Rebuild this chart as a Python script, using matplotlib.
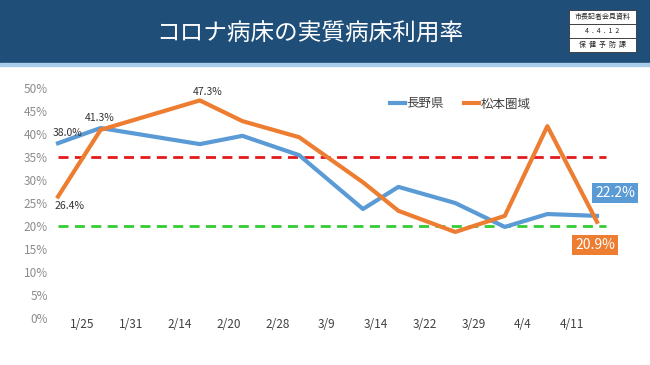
import matplotlib
matplotlib.use("Agg")
import matplotlib.pyplot as plt
from matplotlib.patches import Rectangle
import numpy as np
import pandas as pd

plt.rcParams['font.family'] = ['Noto Sans CJK JP', 'DejaVu Sans']

dates = ['1/25', '1/31', '2/14', '2/20', '2/28', '3/9', '3/14', '3/22', '3/29', '4/4', '4/11']
nagano = [38.0, 41.3, 37.8, 39.6, 35.4, 23.7, 28.5, 25.0, 19.8, 22.6, 22.2]
matsumoto = [26.4, 40.9, 47.3, 42.8, 39.3, 29.5, 23.3, 18.7, 22.2, 41.7, 20.9]
upper_line = 35
lower_line = 20
yticks = [0, 5, 10, 15, 20, 25, 30, 35, 40, 45, 50]

# date axis: days since first point
dt = pd.to_datetime(['2022/' + d for d in dates])
days = np.array((dt - dt[0]).days)

W, H = 650, 365
fig = plt.figure(figsize=(6.5, 3.65), dpi=100)

def fx(px):
    return px / W

def fy(py):
    return 1 - py / H

# header band
fig.patches.append(Rectangle((0, fy(63)), 1, 63 / H, transform=fig.transFigure,
                             color='#1f4e79', zorder=0))
fig.patches.append(Rectangle((0, fy(66)), 1, 3 / H, transform=fig.transFigure,
                             color='#a9cde8', zorder=0))
fig.text(fx(310), fy(34), 'コロナ病床の実質病床利用率', color='white', fontsize=17,
         ha='center', va='center')

# small stamp box
bx0, bx1, by0, rh = 569, 636, 10, 14
rows = ['市長記者会見資料', '4  .  4  .  1  2', '保  健  予  防  課']
for i, r in enumerate(rows):
    fig.patches.append(Rectangle((fx(bx0), fy(by0 + rh * (i + 1))), fx(bx1 - bx0), rh / H,
                                 transform=fig.transFigure, facecolor='white',
                                 edgecolor='#333333', linewidth=0.6, zorder=1))
    fig.text(fx((bx0 + bx1) / 2), fy(by0 + rh * i + rh / 2), r, fontsize=5,
             ha='center', va='center', color='#222222', zorder=2)

# plot area: day 0 at px 58, day 76 at px 597; 0% at py 318, 50% at py 88
ax_l, ax_r = 55, 625
pxday = (597 - 58) / 76
ax = fig.add_axes([fx(ax_l), fy(318), fx(ax_r - ax_l), (318 - 88) / H])
ax.set_xlim(-(58 - ax_l) / pxday, 76 + (ax_r - 597) / pxday)
ax.set_ylim(0, 50)
for s in ax.spines.values():
    s.set_visible(False)

ax.hlines(upper_line, 0, 77.2, colors='#e31a1c', linestyles=(0, (3.6, 2.3)), linewidth=2, zorder=2)
ax.hlines(lower_line, 0, 77.2, colors='#33cc33', linestyles=(0, (3.6, 2.3)), linewidth=2, zorder=2)

ax.plot(days, nagano, color='#5b9bd5', linewidth=3, label='長野県', zorder=3)
ax.plot(days, matsumoto, color='#ed7d31', linewidth=3, label='松本圏域', zorder=4)

ax.set_yticks(yticks)
ax.set_yticklabels([f'{v}%' for v in yticks])
ax.tick_params(axis='y', length=0, pad=5, labelsize=8.5, labelcolor='#8c8c8c')

# category labels spread evenly under the date axis
ax.set_xticks(np.linspace(3.4, 72.4, len(dates)))
ax.set_xticklabels(dates)
ax.tick_params(axis='x', length=0, pad=0, labelsize=8.5, labelcolor='#404040')

# point labels
lab = dict(textcoords='offset pixels', ha='center', va='center', fontsize=7.5, color='#333333')
ax.annotate(f'{nagano[0]:.1f}%', (days[0], nagano[0]), xytext=(10, 10), **lab)
ax.annotate(f'{nagano[1]:.1f}%', (days[1], nagano[1]), xytext=(-1, 10), **lab)
ax.annotate(f'{matsumoto[2]:.1f}%', (days[2], matsumoto[2]), xytext=(8, 8), **lab)
ax.annotate(f'{matsumoto[0]:.1f}%', (days[0], matsumoto[0]), xytext=(12, -9), **lab)

ax.annotate(f'{nagano[-1]:.1f}%', (days[-1], nagano[-1]), xytext=(18, 23),
            textcoords='offset pixels', ha='center', va='center', fontsize=10,
            color='white', bbox=dict(boxstyle='square,pad=0.2', fc='#5b9bd5', ec='none'))
ax.annotate(f'{matsumoto[-1]:.1f}%', (days[-1], matsumoto[-1]), xytext=(-2, -23),
            textcoords='offset pixels', ha='center', va='center', fontsize=10,
            color='white', bbox=dict(boxstyle='square,pad=0.2', fc='#ed7d31', ec='none'))

ax.legend(loc='center left', bbox_to_anchor=(fx(384), fy(104)), bbox_transform=fig.transFigure,
          ncol=2, frameon=False, fontsize=9, borderpad=0, handlelength=1.2,
          handletextpad=0.1, columnspacing=1.6, labelcolor='#404040')

fig.savefig('out.png', dpi=100)
